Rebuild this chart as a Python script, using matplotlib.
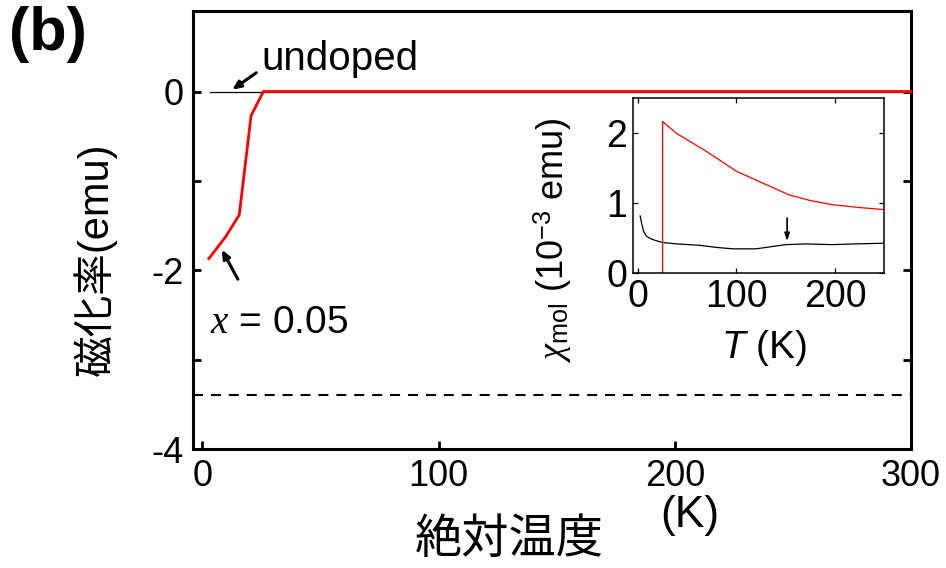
import matplotlib
matplotlib.use("Agg")
import matplotlib.pyplot as plt
from matplotlib.ticker import MultipleLocator, FixedLocator

plt.rcParams['font.family'] = ['Liberation Sans', 'Noto Sans CJK JP', 'DejaVu Sans']
plt.rcParams['mathtext.fontset'] = 'custom'
plt.rcParams['mathtext.rm'] = 'Liberation Sans'
plt.rcParams['mathtext.it'] = 'Liberation Serif:italic'
plt.rcParams['mathtext.sf'] = 'Liberation Sans:italic'

# ---- main panel data ----
doped_T = [2.7, 9.7, 15.6, 20.6, 25.8, 300]
doped_M = [-1.87, -1.63, -1.38, -0.27, 0.0, 0.0]
undoped_T = [3, 300]
undoped_M = [0.0, 0.0]
dashed_level = -3.40

# ---- inset data ----
inset_red_T = [25.3, 25.3, 39.4, 70, 100, 125, 153.8, 175, 197.6, 225, 250]
inset_red_chi = [0.0, 2.17, 2.0, 1.74, 1.46, 1.30, 1.12, 1.04, 0.98, 0.94, 0.91]
inset_blk_T = [2.6, 4, 6, 9, 12.4, 18, 25.3, 40, 63, 80, 96.6, 110, 120, 135,
               150.4, 170, 197, 220, 250]
inset_blk_chi = [0.82, 0.72, 0.60, 0.53, 0.50, 0.47, 0.44, 0.42, 0.40, 0.37,
                 0.35, 0.35, 0.35, 0.38, 0.41, 0.42, 0.41, 0.42, 0.43]

main_xticks = [0, 100, 200, 300]
main_yticks = [0, -2, -4]
inset_xticks = [0, 100, 200]
inset_yticks = [0, 1, 2]

fig = plt.figure(figsize=(9.46, 5.68), dpi=100)
ax = fig.add_axes([0.204, 0.2095, 0.759, 0.771])

ax.plot(undoped_T, undoped_M, color='black', lw=0.9, zorder=2)
ax.plot(doped_T, doped_M, color='#ff0000', lw=2.0, zorder=3, clip_on=False)
ax.axhline(dashed_level, color='black', lw=1.5, dashes=(4.8, 3.8))

ax.set_xlim(-4, 300)
ax.set_ylim(-4, 0.9)
ax.xaxis.set_major_locator(FixedLocator(main_xticks))
ax.yaxis.set_major_locator(FixedLocator(main_yticks))
ax.yaxis.set_minor_locator(MultipleLocator(1))
ax.set_yticklabels(['0', '-2', '-4'])
for s in ax.spines.values():
    s.set_linewidth(2.2)
ax.tick_params(which='both', direction='in', width=2.0, length=6, labelsize=26,
               right=True, top=False)
ax.tick_params(axis='x', pad=7)
ax.tick_params(axis='y', pad=7)

ax.annotate('', xy=(12.6, 0.02), xytext=(22.8, 0.21),
            arrowprops=dict(arrowstyle='-|>,head_length=0.5,head_width=0.22',
                            color='black', lw=2.2, shrinkA=0, shrinkB=0))
ax.annotate('', xy=(8.2, -1.77), xytext=(15.0, -2.10),
            arrowprops=dict(arrowstyle='-|>,head_length=0.5,head_width=0.22',
                            color='black', lw=2.2, shrinkA=0, shrinkB=0))
ax.text(25, 0.245, 'undoped', fontsize=29, ha='left', va='baseline')
ax.text(3, -2.70, r'$x$ = 0.05', fontsize=28, ha='left', va='baseline')

fig.text(9/946, 1 - 6/568, '(b)', fontsize=44, fontweight='bold', ha='left', va='top')
fig.text(95/946, 1 - 259/568, '磁化率(emu)', fontsize=30, rotation=90,
         ha='center', va='center')
fig.text(415/946, 1 - 540/568, '絶対温度', fontsize=34, ha='left', va='center',
         family=['Noto Sans CJK JP'])
fig.text(660/946, 1 - 515/568, '(K)', fontsize=32, ha='left', va='center')

# ---- inset ----
ins = fig.add_axes([0.6688, 0.5188, 0.266, 0.308])
ins.plot(inset_blk_T, inset_blk_chi, color='black', lw=0.9)
ins.plot(inset_red_T, inset_red_chi, color='#ff0000', lw=0.9)
ins.set_xlim(-5, 250)
ins.set_ylim(0, 2.5)
ins.xaxis.set_major_locator(FixedLocator(inset_xticks))
ins.yaxis.set_major_locator(FixedLocator(inset_yticks))
for s in ins.spines.values():
    s.set_linewidth(1.1)
ins.tick_params(direction='in', width=0.9, length=3.5, labelsize=27,
                top=True, right=True, pad=4)
ins.annotate('', xy=(151.5, 0.46), xytext=(151.5, 0.79),
             arrowprops=dict(arrowstyle='-|>,head_length=0.45,head_width=0.15',
                             color='black', lw=1.2, shrinkA=0, shrinkB=0))
ins.set_xlabel(r'$\mathsf{T}$ (K)', fontsize=28, va='top')
ins.xaxis.set_label_coords(0.522, -0.31)
ins.set_ylabel(r'$\chi_{\mathrm{mol}}$ (10$^{-3}$ emu)', fontsize=26)
ins.yaxis.set_label_coords(-0.235, 0.19)

fig.savefig('out.png', dpi=100)
